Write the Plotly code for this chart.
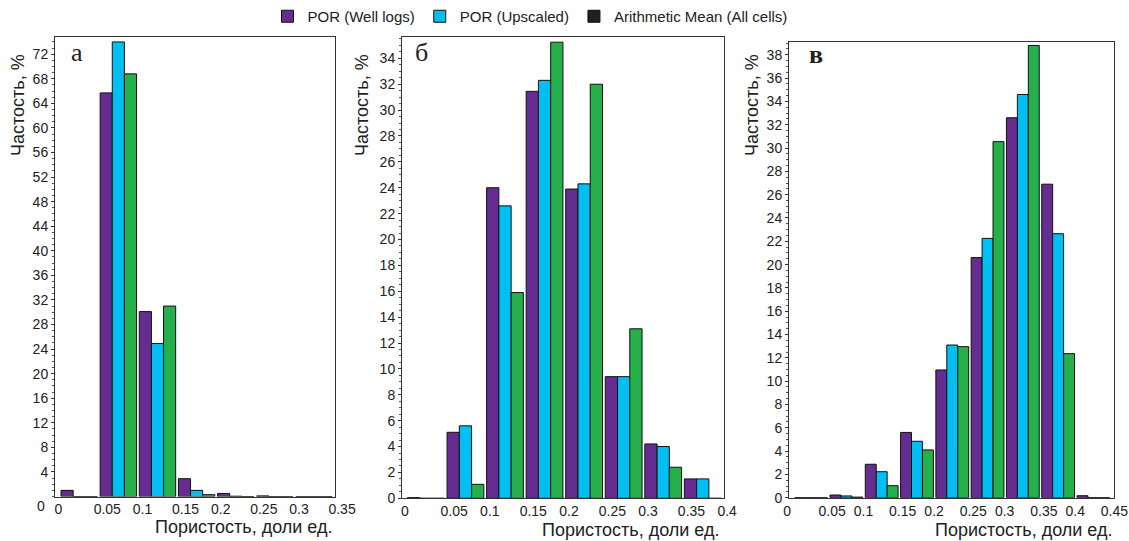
import numpy as np
import plotly.graph_objects as go

W, H = 1129, 541

# ---------------- data ----------------
series_names = ["POR (Well logs)", "POR (Upscaled)", "Arithmetic Mean (All cells)"]
bin_width = 0.05

bins_a = [0.0, 0.05, 0.10, 0.15, 0.20, 0.25, 0.30]
well_a = [1.0, 65.7, 30.1, 2.9, 0.5, 0.1, 0.0]
upsc_a = [0.0, 74.0, 24.9, 1.0, 0.05, 0.0, 0.0]
mean_a = [0.0, 68.8, 31.0, 0.3, 0.0, 0.0, 0.0]

bins_b = [0.0, 0.05, 0.10, 0.15, 0.20, 0.25, 0.30, 0.35]
well_b = [0.05, 5.1, 24.0, 31.45, 23.9, 9.4, 4.2, 1.5]
upsc_b = [0.0, 5.6, 22.6, 32.3, 24.3, 9.4, 4.0, 1.5]
mean_b = [0.0, 1.08, 15.9, 35.25, 32.0, 13.1, 2.4, 0.0]

bins_c = [0.0, 0.05, 0.10, 0.15, 0.20, 0.25, 0.30, 0.35, 0.40]
well_c = [0.0, 0.23, 2.87, 5.6, 10.96, 20.6, 32.6, 26.9, 0.17]
upsc_c = [0.0, 0.15, 2.23, 4.84, 13.1, 22.25, 34.6, 22.65, 0.0]
mean_c = [0.0, 0.05, 1.03, 4.1, 12.96, 30.55, 38.8, 12.36, 0.0]

xticks_a = [0, 0.05, 0.1, 0.15, 0.2, 0.25, 0.3, 0.35]
xticks_b = [0, 0.05, 0.1, 0.15, 0.2, 0.25, 0.3, 0.35, 0.4]
xticks_c = [0, 0.05, 0.1, 0.15, 0.2, 0.25, 0.3, 0.35, 0.4, 0.45]
yticks_a = list(range(4, 73, 4))
yticks_b = list(range(0, 35, 2))
yticks_c = list(range(0, 39, 2))

panel_letters = ["а", "б", "в"]
y_title = "Частость, %"
x_title = "Пористость, доли ед."

# ---------------- style ----------------
colors = ["#662d91", "#00bff3", "#25b04b"]
legend_mean_color = "#231f20"
bar_frac = 0.31

fig = go.Figure()

panels = [
    (bins_a, [well_a, upsc_a, mean_a], "x", "y"),
    (bins_b, [well_b, upsc_b, mean_b], "x2", "y2"),
    (bins_c, [well_c, upsc_c, mean_c], "x3", "y3"),
]
for pi, (bins, vals, xa, ya) in enumerate(panels):
    for k, v in enumerate(vals):
        fig.add_trace(go.Bar(
            x=bins, y=v, xaxis=xa, yaxis=ya,
            width=bin_width * bar_frac,
            offset=k * bin_width * bar_frac,
            marker=dict(color=colors[k], line=dict(color="#111111", width=1)),
            name=series_names[k],
            showlegend=(pi == 0 and k < 2),
            legendrank=k + 1,
        ))

# legend entry for the mean series as shown in the reference (black swatch)
fig.add_trace(go.Bar(x=[None], y=[None], name=series_names[2],
                     marker=dict(color=legend_mean_color, line=dict(color="#111111", width=1)),
                     showlegend=True, legendrank=3))

def px_x(p):
    return p / W

def px_y(p):
    return 1 - p / H

font_ticks = dict(family="Liberation Sans, Arial, sans-serif", size=14, color="#222222")

def xaxis_cfg(dom, rng, ticks, anchor, shift):
    return dict(domain=dom, range=rng, tickvals=ticks, ticktext=[f"{t:g}" for t in ticks],
                anchor=anchor, automargin=False,
                showline=True, mirror=True, linecolor="#333333", linewidth=1,
                showgrid=False, zeroline=False, ticks="", tickfont=font_ticks,
                ticklabelposition="outside right", ticklabelshift=shift,
                ticklabeloverflow="allow")

def yaxis_cfg(dom, rng, ticks, anchor, minor_dt):
    return dict(domain=dom, range=rng, tickvals=ticks, anchor=anchor, automargin=False,
                showline=True, mirror=True, linecolor="#333333", linewidth=1,
                showgrid=False, zeroline=False, ticks="outside", ticklen=3,
                tickcolor="#333333", tickfont=font_ticks,
                minor=dict(dtick=minor_dt, ticks="outside", ticklen=2, tickcolor="#555555"))

fig.update_layout(
    width=W, height=H,
    margin=dict(l=0, r=0, t=0, b=0, autoexpand=False),
    paper_bgcolor="white", plot_bgcolor="white",
    barmode="overlay",
    xaxis=xaxis_cfg([px_x(55), px_x(335)], [-0.0077, 0.3501], xticks_a, "y", -7),
    yaxis=yaxis_cfg([px_y(496.5), px_y(37)], [0, 74.8], yticks_a, "x", 1),
    xaxis2=xaxis_cfg([px_x(402), px_x(724)], [-0.00696, 0.4001], xticks_b, "y2", -7),
    yaxis2=yaxis_cfg([px_y(498.3), px_y(37)], [0, 35.65], yticks_b, "x2", 0.5),
    xaxis3=xaxis_cfg([px_x(789), px_x(1114)], [-0.0081, 0.4524], xticks_c, "y3", -12),
    yaxis3=yaxis_cfg([px_y(497.7), px_y(42)], [0, 39.1], yticks_c, "x3", 0.5),
    legend=dict(orientation="h", x=px_x(530), xanchor="center", y=1.0, yanchor="top",
                font=dict(family="Liberation Sans, Arial, sans-serif", size=15, color="#222222"),
                traceorder="normal", itemwidth=30),
    showlegend=True,
)

ann = []
title_font = dict(family="Liberation Sans, Arial, sans-serif", size=18, color="#222222")
# x titles, right aligned to plot edge
for xr, ypx in [(335, 527), (722, 530), (1115, 530)]:
    ann.append(dict(text=x_title, x=px_x(xr), y=px_y(ypx), xref="paper", yref="paper",
                    xanchor="right", yanchor="middle", showarrow=False, font=title_font))
# y titles, top aligned
for xc in [18, 362, 752]:
    ann.append(dict(text=y_title, x=px_x(xc), y=px_y(52), xref="paper", yref="paper",
                    xanchor="center", yanchor="top", textangle=-90, showarrow=False, font=title_font))
# panel letters
for (xc, yc, letter, bold) in [(77, 52, panel_letters[0], False), (421, 52, panel_letters[1], False),
                               (816, 54, panel_letters[2], True)]:
    ann.append(dict(text=f"<b>{letter}</b>" if bold else letter, x=px_x(xc), y=px_y(yc),
                    xref="paper", yref="paper", xanchor="center", yanchor="middle", showarrow=False,
                    font=dict(family="Liberation Serif, Times New Roman, serif", size=26,
                              color="#222222")))
# y = 0 label of panel a (drawn lower than the axis in the reference)
ann.append(dict(text="0", x=px_x(41), y=px_y(506), xref="paper", yref="paper",
                xanchor="center", yanchor="middle", showarrow=False, font=font_ticks))
fig.update_layout(annotations=ann)

fig.write_html("out.html", config={"displayModeBar": False},
               post_script="document.body.style.margin='0px';document.body.style.overflow='hidden';")
